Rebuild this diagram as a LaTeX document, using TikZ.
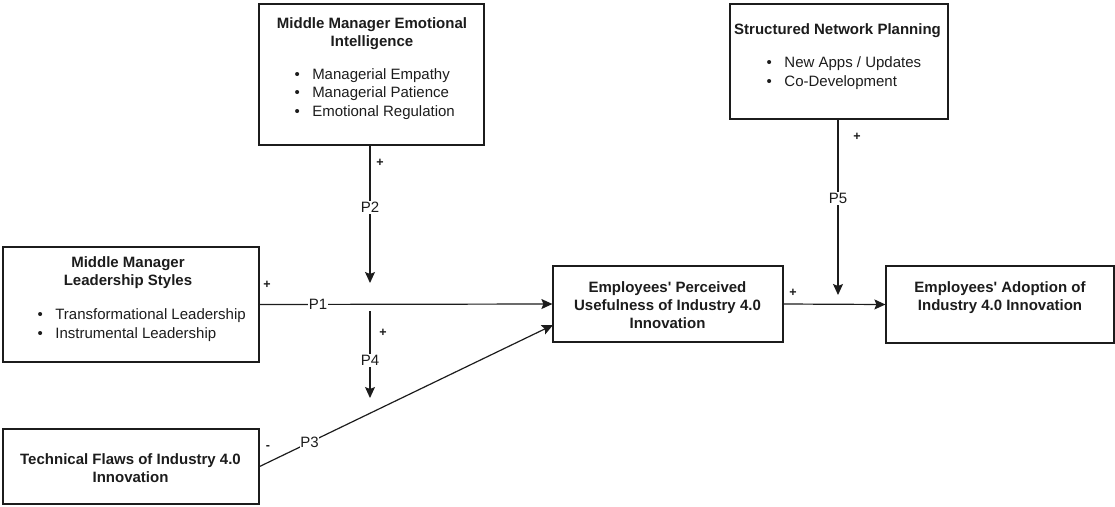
\documentclass[tikz,border=0pt]{standalone}
\usepackage{fontspec}
\newfontfamily\dio{Liberation Sans}
\usetikzlibrary{arrows.meta}
\definecolor{ink}{RGB}{28,28,28}
\begin{document}
\begin{tikzpicture}[x=1pt,y=-1pt,
  box/.style={draw=ink, line width=1.2pt, inner sep=0pt},
  ttl/.style={align=center, inner sep=0pt, text=ink, yshift=-2.5pt,
    font=\dio\fontsize{15}{18}\selectfont\bfseries},
  items/.style={align=left, anchor=west, inner sep=0pt, text=ink, yshift=-2pt,
    font=\dio\fontsize{15}{18.5}\selectfont},
  lbl/.style={fill=white, inner sep=1pt, text=ink,
    font=\dio\fontsize{15}{18}\selectfont},
  sgn/.style={inner sep=0pt, text=ink, font=\dio\fontsize{12.5}{13}\selectfont\bfseries},
  conn/.style={draw=ink, line width=1.2pt},
  arr/.style={conn, -{Stealth[length=11pt,width=10pt,inset=2pt]}}
]
\useasboundingbox (0,0) rectangle (1115,506);
\newcommand{\bl}{\textbullet\hspace{12.5pt}}

% ---- boxes ----
\node[box, minimum width=225pt, minimum height=141pt] (ei) at (371.5,74.5) {};
\node[ttl] (eiT) at (372,31) {Middle Manager Emotional\\Intelligence};
\node[items] (eiL) at (294.3,92) {\bl Managerial Empathy\\\bl Managerial Patience\\\bl Emotional Regulation};

\node[box, minimum width=218pt, minimum height=115pt] (snp) at (839,61.5) {};
\node[ttl] (snpT) at (837.5,28) {Structured Network Planning};
\node[items] (snpL) at (766.5,71) {\bl New Apps / Updates\\\bl Co-Development};

\node[box, minimum width=256pt, minimum height=115pt] (lead) at (131,304.5) {};
\node[ttl] (leadT) at (128,270.5) {Middle Manager\\Leadership Styles};
\node[items] (leadL) at (37.4,323) {\bl Transformational Leadership\\\bl Instrumental Leadership};

\node[box, minimum width=256pt, minimum height=75pt] (tech) at (131,466.5) {};
\node[ttl, yshift=1pt] (techT) at (130.5,466.5) {Technical Flaws of Industry 4.0\\Innovation};

\node[box, minimum width=230pt, minimum height=76pt] (perc) at (668,304) {};
\node[ttl, yshift=1pt] (percT) at (667.5,303.5) {Employees\textquotesingle{} Perceived\\Usefulness of Industry 4.0\\Innovation};

\node[box, minimum width=228pt, minimum height=77pt] (adopt) at (1000,304.5) {};
\node[ttl] (adoptT) at (1000,295) {Employees\textquotesingle{} Adoption of\\Industry 4.0 Innovation};

% ---- free ends of the moderator arrows ----
\coordinate (p2end) at (370,283);
\coordinate (p4start) at (370,311);
\coordinate (p4end) at (370,398);
\coordinate (p5end) at (838,295);
\coordinate (p3end) at (553,325);

% ---- connectors ----
\draw[arr] (lead.east) -- node[lbl, pos=0.2] (p1) {P1} (perc.west);
\draw[arr] (ei.south -| p2end) -- node[lbl, pos=0.45] (p2) {P2} (p2end);
\draw[arr] (p4start) -- node[lbl, pos=0.57] (p4) {P4} (p4end);
\draw[arr] (tech.east) -- node[lbl, pos=0.17, inner sep=0.5pt] (p3) {P3} (p3end);
\draw[arr] (perc.east) -- (adopt.west);
\draw[arr] (snp.south -| p5end) -- node[lbl, pos=0.45] (p5) {P5} (p5end);

% ---- signs ----
\node[sgn] (s1) at (267,285) {+};
\node[sgn] (s2) at (380,163) {+};
\node[sgn] (s4) at (383,333) {+};
\node[sgn] (s3) at (268,448) {-};
\node[sgn] (s6) at (793,293) {+};
\node[sgn] (s5) at (857,137) {+};
\end{tikzpicture}
\end{document}
